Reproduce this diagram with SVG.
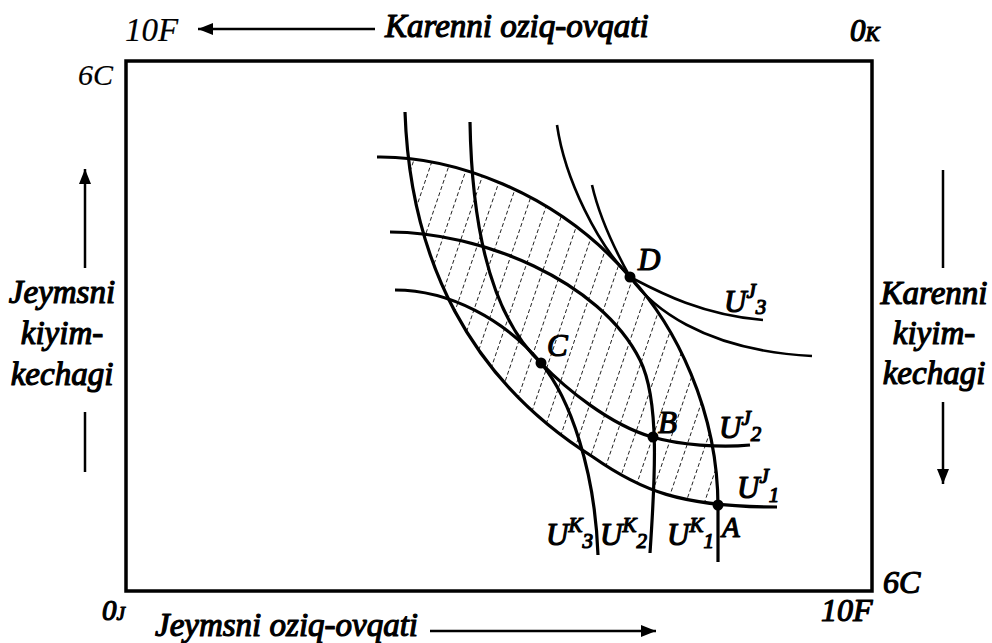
<svg xmlns="http://www.w3.org/2000/svg" width="992" height="643" viewBox="0 0 992 643">
<style>
.t{font-family:"Liberation Serif","Times New Roman",serif;font-style:italic;font-weight:normal;fill:#000;stroke:#000;stroke-width:1.2;stroke-linejoin:round}
.r{stroke-width:0.2}
.cv{fill:none;stroke:#000;stroke-width:3.2;stroke-linecap:butt}
.cv2{fill:none;stroke:#000;stroke-width:2.6}
.ax{fill:none;stroke:#000;stroke-width:2.5}
.h{stroke:#222;stroke-width:1;stroke-dasharray:4 2.5}
.dot{fill:#000}
</style>
<defs>
<marker id="ah" markerUnits="userSpaceOnUse" markerWidth="16" markerHeight="14" refX="15" refY="7" orient="auto">
<path d="M0,1 L15,7 L0,13 Z" fill="#000"/>
</marker>
<clipPath id="belowK1"><path d="M300,157 L377,157 C450,156 555,190 630,277 C675,325 718,410 718,507 L718,600 L300,600 Z"/></clipPath>
<clipPath id="rightJ1"><path d="M405,100 L405,112 C410,260 470,380 593,457 C640,490 680,507 777,507 L820,507 L820,100 Z"/></clipPath>
</defs>
<rect width="992" height="643" fill="#fff"/>

<g id="box"><rect x="126" y="61" width="746" height="530" fill="none" stroke="#000" stroke-width="3.5"/></g>

<g id="axis-labels">
<text class="t r" x="125" y="41" font-size="33">10F</text>
<text class="t" x="385" y="37" font-size="33">Karenni oziq-ovqati</text>
<text class="t" x="850" y="41" font-size="31">0<tspan font-size="21">K</tspan></text>
<text class="t r" x="78" y="85" font-size="30">6C</text>
<text class="t" x="883" y="593" font-size="32">6C</text>
<text class="t" x="102" y="620" font-size="29">0<tspan font-size="19">J</tspan></text>
<text class="t" x="155" y="636" font-size="33">Jeymsni oziq-ovqati</text>
<text class="t" x="821" y="621" font-size="32">10F</text>
<text class="t" x="62" y="303" font-size="33" text-anchor="middle">Jeymsni</text>
<text class="t" x="62" y="344" font-size="33" text-anchor="middle">kiyim-</text>
<text class="t" x="62" y="385" font-size="33" text-anchor="middle">kechagi</text>
<text class="t" x="934" y="304" font-size="33" text-anchor="middle">Karenni</text>
<text class="t" x="934" y="344" font-size="33" text-anchor="middle">kiyim-</text>
<text class="t" x="934" y="384" font-size="33" text-anchor="middle">kechagi</text>
</g>

<g id="connectors">
<line class="ax" x1="375" y1="29" x2="198" y2="29" marker-end="url(#ah)"/>
<line class="ax" x1="430" y1="631" x2="656" y2="631" marker-end="url(#ah)"/>
<line class="ax" x1="85" y1="268" x2="85" y2="169" marker-end="url(#ah)"/>
<line class="ax" x1="85" y1="412" x2="85" y2="472"/>
<line class="ax" x1="943" y1="170" x2="943" y2="268"/>
<line class="ax" x1="943" y1="402" x2="943" y2="484" marker-end="url(#ah)"/>
</g>

<g id="hatch" clip-path="url(#belowK1)"><g clip-path="url(#rightJ1)">
<line class="h" x1="397.3" y1="100" x2="240.9" y2="560"/>
<line class="h" x1="415.8" y1="100" x2="259.4" y2="560"/>
<line class="h" x1="434.3" y1="100" x2="277.9" y2="560"/>
<line class="h" x1="452.8" y1="100" x2="296.4" y2="560"/>
<line class="h" x1="471.3" y1="100" x2="314.9" y2="560"/>
<line class="h" x1="489.8" y1="100" x2="333.4" y2="560"/>
<line class="h" x1="508.3" y1="100" x2="351.9" y2="560"/>
<line class="h" x1="526.8" y1="100" x2="370.4" y2="560"/>
<line class="h" x1="545.3" y1="100" x2="388.9" y2="560"/>
<line class="h" x1="563.8" y1="100" x2="407.4" y2="560"/>
<line class="h" x1="582.3" y1="100" x2="425.9" y2="560"/>
<line class="h" x1="600.8" y1="100" x2="444.4" y2="560"/>
<line class="h" x1="619.3" y1="100" x2="462.9" y2="560"/>
<line class="h" x1="637.8" y1="100" x2="481.4" y2="560"/>
<line class="h" x1="656.3" y1="100" x2="499.9" y2="560"/>
<line class="h" x1="674.8" y1="100" x2="518.4" y2="560"/>
<line class="h" x1="693.3" y1="100" x2="536.9" y2="560"/>
<line class="h" x1="711.8" y1="100" x2="555.4" y2="560"/>
<line class="h" x1="730.3" y1="100" x2="573.9" y2="560"/>
<line class="h" x1="748.8" y1="100" x2="592.4" y2="560"/>
<line class="h" x1="767.3" y1="100" x2="610.9" y2="560"/>
<line class="h" x1="785.8" y1="100" x2="629.4" y2="560"/>
<line class="h" x1="804.3" y1="100" x2="647.9" y2="560"/>
<line class="h" x1="822.8" y1="100" x2="666.4" y2="560"/>
<line class="h" x1="841.3" y1="100" x2="684.9" y2="560"/>
<line class="h" x1="859.8" y1="100" x2="703.4" y2="560"/>
<line class="h" x1="878.3" y1="100" x2="721.9" y2="560"/>
</g></g>

<g id="curves">
<path id="UK1" class="cv" d="M377,157 C450,156 555,190 630,277 C675,325 718,410 718,507 L718,562"/>
<path id="UK2" class="cv" d="M390,232 C480,232 600,280 640,360 C660,400 655,480 650,553"/>
<path id="UK3" class="cv" d="M395,290 C450,290 505,320 541,363 C570,398 595,470 598,555"/>
<path id="UJ1" class="cv" d="M405,112 C410,260 470,380 593,457 C640,490 680,507 777,507"/>
<path id="UJ2" class="cv" d="M470,122 C472,240 495,320 541,363 C565,388 610,425 652,437 C680,445 720,448 750,445"/>
<path id="UJ3" class="cv2" d="M557,125 C565,180 598,245 630,277 C655,290 700,315 763,320"/>
<path id="UJ4" class="cv2" d="M592,185 C600,220 615,250 630,277 C650,305 700,350 812,356"/>
</g>

<g id="points">
<circle class="dot" cx="630" cy="277" r="5.5"/>
<circle class="dot" cx="541" cy="363" r="5.5"/>
<circle class="dot" cx="653" cy="437" r="5.5"/>
<circle class="dot" cx="718" cy="505" r="5.5"/>
<text class="t" x="638" y="270" font-size="31">D</text>
<text class="t" x="547" y="356" font-size="31">C</text>
<text class="t" x="658" y="433" font-size="31">B</text>
<text class="t" x="722" y="537" font-size="29">A</text>
</g>

<g id="curve-labels">
<text class="t" x="724" y="312" font-size="31">U<tspan font-size="21" dy="-14">J</tspan><tspan font-size="21" dy="16">3</tspan></text>
<text class="t" x="719" y="438" font-size="31">U<tspan font-size="21" dy="-13">J</tspan><tspan font-size="21" dy="16">2</tspan></text>
<text class="t" x="737" y="498" font-size="31">U<tspan font-size="21" dy="-15">J</tspan><tspan font-size="21" dy="19">1</tspan></text>
<text class="t" x="546" y="545" font-size="31">U<tspan font-size="21" dy="-13">K</tspan><tspan font-size="21" dy="16">3</tspan></text>
<text class="t" x="600" y="545" font-size="31">U<tspan font-size="21" dy="-13">K</tspan><tspan font-size="21" dy="16">2</tspan></text>
<text class="t" x="667" y="545" font-size="31">U<tspan font-size="21" dy="-13">K</tspan><tspan font-size="21" dy="16">1</tspan></text>
</g>
</svg>
